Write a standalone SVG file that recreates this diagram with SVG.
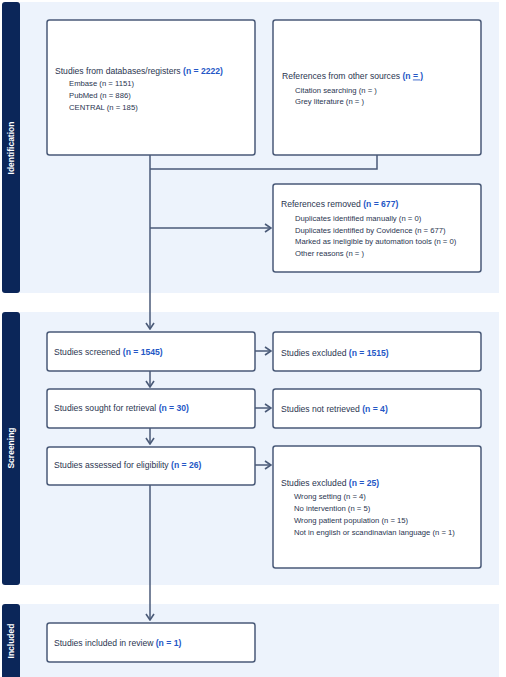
<svg xmlns="http://www.w3.org/2000/svg" width="506" height="677" viewBox="0 0 506 677">
<defs>
<marker id="arr" viewBox="0 0 8 10" refX="7" refY="5" markerWidth="8" markerHeight="10" markerUnits="userSpaceOnUse" orient="auto">
<path d="M1,1 L7,5 L1,9" fill="none" stroke="#4a5a78" stroke-width="1.6"/>
</marker>
</defs>
<style>
.band{fill:#edf3fc}
.side{fill:#0b2659}
.sl{fill:#ffffff;font-family:"Liberation Sans",Arial,sans-serif;font-size:8.5px;font-weight:bold}
.box{fill:#ffffff;stroke:#4a5a78;stroke-width:1.5}
.t{fill:#2a3550;font-family:"Liberation Sans",Arial,sans-serif;font-size:8.6px}
.s{fill:#2a3550;font-family:"Liberation Sans",Arial,sans-serif;font-size:7.7px}
.n{fill:#2557c6;font-weight:bold}
.c{fill:none;stroke:#4a5a78;stroke-width:1.5}
</style>
<rect width="506" height="677" fill="#ffffff"/>
<g id="bands">
<rect class="band" x="20" y="2" width="479" height="291"/>
<rect class="band" x="20" y="312" width="479" height="273"/>
<rect class="band" x="20" y="604" width="479" height="73"/>
<rect class="side" x="2" y="2" width="18" height="291" rx="3"/>
<rect class="side" x="2" y="312" width="18" height="273" rx="3"/>
<rect class="side" x="2" y="604" width="18" height="76" rx="3"/>
<text class="sl" transform="translate(14,148) rotate(-90)" text-anchor="middle">Identification</text>
<text class="sl" transform="translate(14,448) rotate(-90)" text-anchor="middle">Screening</text>
<text class="sl" transform="translate(14,641) rotate(-90)" text-anchor="middle">Included</text>
</g>
<g id="connectors">
<path class="c" d="M150,155 V329" marker-end="url(#arr)"/>
<path class="c" d="M377,155 V169 H150"/>
<path class="c" d="M150,228 H271" marker-end="url(#arr)"/>
<path class="c" d="M150,371 V387" marker-end="url(#arr)"/>
<path class="c" d="M150,428 V444" marker-end="url(#arr)"/>
<path class="c" d="M150,485 V620" marker-end="url(#arr)"/>
<path class="c" d="M255,351 H271" marker-end="url(#arr)"/>
<path class="c" d="M255,408 H271" marker-end="url(#arr)"/>
<path class="c" d="M255,465 H271" marker-end="url(#arr)"/>
</g>
<g id="databases">
<rect class="box" x="47" y="20" width="208" height="135" rx="2.5"/>
<text class="t" x="55" y="73.5">Studies from databases/registers <tspan class="n">(n = 2222)</tspan></text>
<text class="s" x="69" y="85.5">Embase (n = 1151)</text>
<text class="s" x="69" y="97.5">PubMed (n = 886)</text>
<text class="s" x="69" y="109.5">CENTRAL (n = 185)</text>
</g>
<g id="other-sources">
<rect class="box" x="273" y="20" width="208" height="135" rx="2.5"/>
<text class="t" x="282" y="78.5">References from other sources <tspan class="n">(n <tspan text-decoration="underline">= )</tspan></tspan></text>
<text class="s" x="295" y="92.5">Citation searching (n = )</text>
<text class="s" x="295" y="104">Grey literature (n = )</text>
</g>
<g id="removed">
<rect class="box" x="273" y="184" width="208" height="88" rx="2.5"/>
<text class="t" x="281" y="207">References removed <tspan class="n">(n = 677)</tspan></text>
<text class="s" x="295" y="220.5">Duplicates identified manually (n = 0)</text>
<text class="s" x="295" y="232.5">Duplicates identified by Covidence (n = 677)</text>
<text class="s" x="295" y="244">Marked as ineligible by automation tools (n = 0)</text>
<text class="s" x="295" y="255.5">Other reasons (n = )</text>
</g>
<g id="screened">
<rect class="box" x="47" y="332" width="208" height="39" rx="2.5"/>
<text class="t" x="54" y="355">Studies screened <tspan class="n">(n = 1545)</tspan></text>
</g>
<g id="excluded1">
<rect class="box" x="273" y="332" width="208" height="39" rx="2.5"/>
<text class="t" x="281" y="356">Studies excluded <tspan class="n">(n = 1515)</tspan></text>
</g>
<g id="sought">
<rect class="box" x="47" y="389" width="208" height="39" rx="2.5"/>
<text class="t" x="54" y="411">Studies sought for retrieval <tspan class="n">(n = 30)</tspan></text>
</g>
<g id="not-retrieved">
<rect class="box" x="273" y="389" width="208" height="39" rx="2.5"/>
<text class="t" x="281" y="412">Studies not retrieved <tspan class="n">(n = 4)</tspan></text>
</g>
<g id="assessed">
<rect class="box" x="47" y="447" width="208" height="38" rx="2.5"/>
<text class="t" x="54" y="468">Studies assessed for eligibility <tspan class="n">(n = 26)</tspan></text>
</g>
<g id="excluded2">
<rect class="box" x="273" y="446" width="208" height="122" rx="2.5"/>
<text class="t" x="281" y="486">Studies excluded <tspan class="n">(n = 25)</tspan></text>
<text class="s" x="294" y="499">Wrong setting (n = 4)</text>
<text class="s" x="294" y="511">No intervention (n = 5)</text>
<text class="s" x="294" y="522.5">Wrong patient population (n = 15)</text>
<text class="s" x="294" y="534.5">Not in english or scandinavian language (n = 1)</text>
</g>
<g id="included">
<rect class="box" x="47" y="623" width="208" height="39" rx="2.5"/>
<text class="t" x="54" y="646">Studies included in review <tspan class="n">(n = 1)</tspan></text>
</g>
</svg>
